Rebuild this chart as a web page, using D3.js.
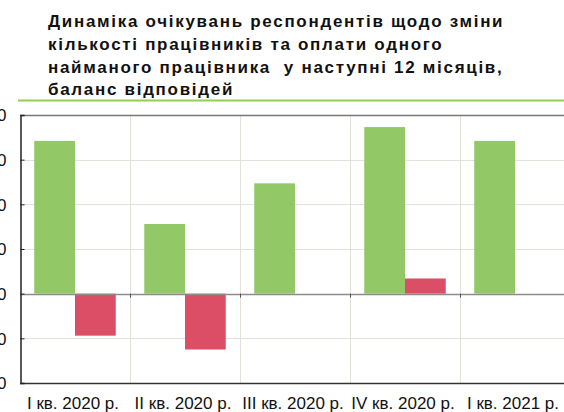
<!DOCTYPE html>
<html>
<head>
<meta charset="utf-8">
<script src="https://cdn.jsdelivr.net/npm/d3@7"></script>
<style>
  body { margin: 0; background: #fff; }
  svg { display: block; font-family: "Liberation Sans", Arial, sans-serif; }
</style>
</head>
<body>
<div class="graphContainer"></div>
<script>
var width = 564;
var height = 412;

// data
var quarters = ["I кв. 2020 р.", "II кв. 2020 р.", "III кв. 2020 р.", "IV кв. 2020 р.", "I кв. 2021 р."];
var staffBalance = [34.2, 15.6, 24.7, 37.3, 34.2];
var wageBalance = [-9.4, -12.5, 0, 3.4, 0];
var yTicks = [-20, -10, 0, 10, 20, 30, 40];
var titleLines = [
  "Динаміка очікувань респондентів щодо зміни",
  "кількості працівників та оплати одного",
  "найманого працівника  у наступні 12 місяців,",
  "баланс відповідей"
];

var svg = d3.select(".graphContainer")
  .append("svg")
  .attr("width", width)
  .attr("height", height);

// title
svg.append("g").selectAll("text")
  .data(titleLines)
  .enter()
  .append("text")
  .attr("x", 48)
  .attr("y", (d, i) => 27 + i * 22.8)
  .style("font-size", "17px")
  .style("font-weight", "bold")
  .style("letter-spacing", "1.7px")
  .style("white-space", "pre")
  .style("fill", "#111")
  .text(d => d);

svg.append("line")
  .attr("x1", 18).attr("x2", width)
  .attr("y1", 100.5).attr("y2", 100.5)
  .style("stroke", "#92d050")
  .style("stroke-width", 2);

// scales
var plotLeft = 20, plotRight = 570, plotTop = 115, plotBottom = 383;

var xScale = d3.scaleBand()
  .domain(quarters)
  .range([plotLeft, plotRight])
  .paddingInner(0)
  .paddingOuter(0);

var yScale = d3.scaleLinear()
  .domain([-20, 40])
  .range([plotBottom, plotTop]);

var inner = d3.scaleBand()
  .domain(["staff", "wage"])
  .range([0, xScale.bandwidth()])
  .paddingOuter(0.35)
  .paddingInner(0);

// grid
svg.append("g").selectAll("line")
  .data(yTicks.filter(d => d != 0 && d != -20 && d != 40))
  .enter()
  .append("line")
  .attr("x1", plotLeft).attr("x2", plotRight)
  .attr("y1", d => Math.round(yScale(d)) + 0.5)
  .attr("y2", d => Math.round(yScale(d)) + 0.5)
  .style("stroke", "#e2e2da")
  .style("stroke-width", 1);

svg.append("g").selectAll("line")
  .data(quarters.slice(1))
  .enter()
  .append("line")
  .attr("x1", d => Math.round(xScale(d)) + 0.5)
  .attr("x2", d => Math.round(xScale(d)) + 0.5)
  .attr("y1", plotTop).attr("y2", plotBottom)
  .style("stroke", "#e2e2da")
  .style("stroke-width", 1);

// bars
var groups = svg.append("g").selectAll("g")
  .data(quarters)
  .enter()
  .append("g")
  .attr("transform", d => "translate(" + xScale(d) + ",0)");

groups.append("rect")
  .attr("x", inner("staff"))
  .attr("width", inner.bandwidth())
  .attr("y", (d, i) => yScale(Math.max(0, staffBalance[i])))
  .attr("height", (d, i) => Math.abs(yScale(staffBalance[i]) - yScale(0)))
  .style("fill", "#92c966");

groups.append("rect")
  .attr("x", inner("wage"))
  .attr("width", inner.bandwidth())
  .attr("y", (d, i) => yScale(Math.max(0, wageBalance[i])))
  .attr("height", (d, i) => Math.abs(yScale(wageBalance[i]) - yScale(0)))
  .style("fill", "#dc4d66");

// zero line
svg.append("line")
  .attr("x1", plotLeft).attr("x2", plotRight)
  .attr("y1", Math.round(yScale(0)) + 0.5)
  .attr("y2", Math.round(yScale(0)) + 0.5)
  .style("stroke", "#8c8c8c")
  .style("stroke-width", 1.5);

// category ticks on zero line
svg.append("g").selectAll("line")
  .data(quarters.slice(1))
  .enter()
  .append("line")
  .attr("x1", d => Math.round(xScale(d)) + 0.5)
  .attr("x2", d => Math.round(xScale(d)) + 0.5)
  .attr("y1", yScale(0)).attr("y2", yScale(0) + 4)
  .style("stroke", "#555");

// frame
svg.append("line")
  .attr("x1", plotLeft).attr("x2", plotRight)
  .attr("y1", plotTop + 0.5).attr("y2", plotTop + 0.5)
  .style("stroke", "#777").style("stroke-width", 1.5);

svg.append("line")
  .attr("x1", plotLeft).attr("x2", plotRight)
  .attr("y1", plotBottom + 0.5).attr("y2", plotBottom + 0.5)
  .style("stroke", "#333").style("stroke-width", 1.5);

// y axis
var yAxis = d3.axisLeft(yScale)
  .tickValues(yTicks)
  .tickSize(-4)
  .tickPadding(14)
  .tickFormat(d3.format("d"));

var yAxisGroup = svg.append("g")
  .attr("transform", "translate(" + (plotLeft + 0.5) + ",0)")
  .call(yAxis);
yAxisGroup.select(".domain").style("stroke", "#222").style("stroke-width", 1.5);
yAxisGroup.selectAll(".tick line").style("stroke", "#222");
yAxisGroup.selectAll("text")
  .style("font-size", "17px")
  .style("font-family", "Liberation Sans, Arial, sans-serif")
  .style("fill", "#111")
  .attr("dy", "0.35em");

// x labels
svg.append("g").selectAll("text")
  .data(quarters)
  .enter()
  .append("text")
  .attr("x", d => xScale(d) + xScale.bandwidth() / 2 - 2)
  .attr("y", 409)
  .attr("text-anchor", "middle")
  .style("font-size", "17px")
  .style("fill", "#111")
  .text(d => d);
</script>
</body>
</html>
